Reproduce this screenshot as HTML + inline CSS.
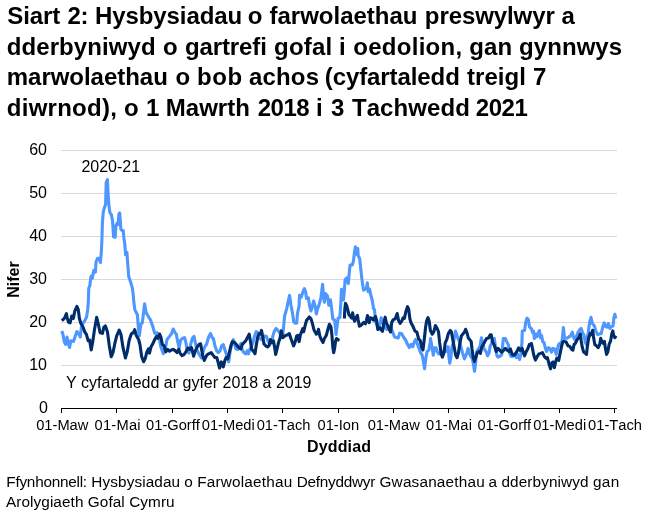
<!DOCTYPE html>
<html><head><meta charset="utf-8"><title>Siart 2</title>
<style>
html,body{margin:0;padding:0;background:#fff;}
body{width:650px;height:518px;overflow:hidden;font-family:"Liberation Sans",sans-serif;}
svg{display:block;will-change:transform;}
text{font-family:"Liberation Sans",sans-serif;fill:#000;font-kerning:none;}
.t{font-size:24px;font-weight:bold;}
.y{font-size:16px;text-anchor:end;}
.x{font-size:14.67px;text-anchor:middle;}
.l{font-size:16px;}
.b{font-size:16px;font-weight:bold;text-anchor:middle;}
.s{font-size:15.33px;}
</style></head><body>
<svg width="650" height="518" viewBox="0 0 650 518">
<rect width="650" height="518" fill="#fff"/>
<g class="t">
<text y="24"><tspan x="7.3" textLength="53">Siart</tspan><tspan x="67.4" textLength="21">2:</tspan><tspan x="95.1" textLength="147">Hysbysiadau</tspan><tspan x="247.7">o</tspan><tspan x="269.5" textLength="148">farwolaethau</tspan><tspan x="424.8" textLength="130">preswylwyr</tspan><tspan x="561.5">a</tspan></text>
<text y="54.5"><tspan x="6.7" textLength="149">dderbyniwyd</tspan><tspan x="163.1">o</tspan><tspan x="184.9" textLength="82">gartrefi</tspan><tspan x="274.1" textLength="58">gofal</tspan><tspan x="339">i</tspan><tspan x="353.2" textLength="109">oedolion,</tspan><tspan x="469.2" textLength="43">gan</tspan><tspan x="519.1" textLength="103">gynnwys</tspan></text>
<text y="85"><tspan x="6.8" textLength="161">marwolaethau</tspan><tspan x="175.5">o</tspan><tspan x="197.1" textLength="45">bob</tspan><tspan x="249" textLength="70">achos</tspan><tspan x="324.8" textLength="135">(cyfartaledd</tspan><tspan x="467" textLength="59">treigl</tspan><tspan x="532.9">7</tspan></text>
<text y="115.5"><tspan x="6.8" textLength="110">diwrnod),</tspan><tspan x="124">o</tspan><tspan x="146">1</tspan><tspan x="165.8" textLength="84">Mawrth</tspan><tspan x="257.7" textLength="52">2018</tspan><tspan x="316">i</tspan><tspan x="331">3</tspan><tspan x="351.9" textLength="118">Tachwedd</tspan><tspan x="475.8" textLength="52">2021</tspan></text>
</g>
<g stroke="#d9d9d9" stroke-width="1" shape-rendering="crispEdges">
<line x1="61" x2="617" y1="150.5" y2="150.5"/>
<line x1="61" x2="617" y1="193.5" y2="193.5"/>
<line x1="61" x2="617" y1="236.5" y2="236.5"/>
<line x1="61" x2="617" y1="279.5" y2="279.5"/>
<line x1="61" x2="617" y1="322.5" y2="322.5"/>
<line x1="61" x2="617" y1="365.5" y2="365.5"/>
</g>
<g class="y">
<text x="47" y="155.3">60</text>
<text x="47" y="198.3">50</text>
<text x="47" y="241.3">40</text>
<text x="47" y="284.3">30</text>
<text x="47" y="327.3">20</text>
<text x="47" y="370.3">10</text>
<text x="47.9" y="413">0</text>
</g>
<g fill="none" stroke-width="3.1" stroke-linejoin="round" stroke-linecap="butt">
<polyline stroke="#4d97ff" points="61.8,330.9 63,334.6 64.3,342 65.7,344.4 67,337 68,342 69.6,347.5 70.8,340.7 73.5,341.4 75.4,335.8 76.9,331.5 78.5,333.3 80.3,337 81.5,326.5 82.8,323.5 84.6,321 86.5,317.3 87.7,309.9 88.3,302 88.8,288.1 89.8,285.7 91,276.4 92.3,278.3 93.8,270.2 95.4,272.1 96,262.2 97.5,258.3 99.4,258.3 100.4,262.5 101.3,252.3 101.9,240 102.4,223.1 103.2,212.3 104.6,206.9 105.6,204.6 106.2,182.3 107.4,179.7 108.2,196.7 109.1,206.5 109.8,212.3 111.4,214.9 112.5,220.5 113.6,236.8 115.2,237.2 115.9,225.5 117.4,222.8 118.1,224.5 118.9,214 119.7,213 120.5,223.1 120.9,229.3 122,230.5 123.2,230.5 123.9,238 124.8,244.3 125.6,254.8 126.9,252.3 127.8,264.7 128.7,276.4 130.6,282 132.4,288.1 133.3,295.6 133.8,302 134.9,309.9 137.4,314.8 138.4,328.4 139.3,335.8 140.9,324.1 142.3,322.8 143.6,312.3 144.6,303.7 146,312.3 148.5,316.7 150.4,319.8 152.8,326.5 154.7,333.3 157.2,332.7 159,337 160.9,346.9 163.3,353.7 165.2,349.4 167,339.5 169.5,336.4 171.4,334 173.2,329 175.1,332.7 176.3,334 177.5,340.7 179.1,348.1 180.6,340.1 182.5,338.3 184.6,337.7 185.8,342 187.4,351.9 189,353.1 190.5,345.1 192.3,338.3 194,336.4 195.2,342 196.7,349.4 199.1,354.3 201.4,358 203.1,351.9 204.7,346.9 206.5,344.5 208.6,337 210.6,333.5 212.2,337.8 213.4,338.4 214.9,345.8 216.7,350.7 218.3,352.6 220.1,350.7 221.7,345.8 223.3,344.6 224.8,349.5 226.2,353.8 227.8,359.4 228.7,361.9 229.9,353.2 231.5,344.6 233.4,339.6 234.6,344 235.9,348.9 237.7,349.5 239.6,347 241,343.3 242,349.5 243.9,352.6 245.7,353.8 247.2,350.7 248.5,353.8 249.7,349.5 251.3,347 253.1,342.1 254.4,336.5 256.2,331.6 257.8,332.8 259.3,337.8 261.2,339.6 263,338.4 264.9,335.9 266.5,336.5 268,340.9 269.8,344.6 271.7,342.1 272.9,335.9 274.4,331 276,328.5 277.8,330.4 279.7,332.8 281.5,334.9 282.6,335.2 283.5,328.3 284.6,316 286.8,308.4 288,302.2 289.6,295.4 290.9,304.7 292.3,312.1 293.8,322 295.4,323.2 296.7,323.2 297.5,313.3 299.1,305.9 299.5,295.4 301.2,297.3 302.8,292.3 304.4,288.6 305.7,292.3 306.5,298.5 308.4,297.9 309.6,305.9 310.9,310.9 312.1,307.2 313.6,301 315.2,306.5 316.4,314 317.7,308.4 319.5,303.5 321,297.3 322.6,284.3 323.8,298.5 324.4,302.2 325.7,293.6 327.5,296 328.8,305.3 330.4,299.8 331.6,308.4 332.8,319.2 334.6,320 335.4,327 336.1,334.5 336.8,328 337.5,322.5 338.2,318 339.8,317.6 340.6,307.2 341.5,289.3 342.4,294 343.4,300 344.3,291.6 345.1,279.8 346.7,278 348.3,283.5 349.2,273 350.1,265 352.3,265 353.5,260.7 354.5,252 355.4,246.9 356.6,254.2 357.8,248.5 358.2,255.8 359.7,258.8 360.7,268.1 361.9,279.2 362.8,285.4 363.6,290.3 365.2,289.1 366.5,287.9 367.3,282.9 368.1,291.6 369.6,289.1 370.8,295.3 372.3,300.5 373.5,308.5 374.5,309.8 375,315.9 375.7,322.1 377.2,325.8 379.1,327 380.3,322.1 381.2,317.8 382.4,322.1 384,325.8 385.9,328.9 387.3,329.5 389,325.8 390.8,327.7 392.7,332 394.5,336.9 396.4,337.5 398.2,338.1 399.7,333.2 401.7,333.8 403.8,337.5 405.6,340 407.5,344.3 409.3,347.4 411.2,344.3 412.8,346.8 414.3,341.9 415.7,339.5 417.1,343 418.7,347.8 420.6,352.7 422.2,355.2 423.4,361.4 424.6,368.8 425.9,357.7 427.1,351.5 428.8,350.3 430.1,342.9 430.5,338.5 431.7,345.3 433.3,355.2 434.5,347.8 436,347.8 437.2,351.5 438.7,354 441,353 444,351.5 445.9,351.5 447.3,349 448.1,346.6 449,357.7 449.8,363.2 451,356.4 452,346.6 453.5,342.9 454.5,336.7 455.5,331.1 457,335.5 458.2,339.2 459.7,341.6 460.9,346.6 462.5,352.7 464.4,358.9 465.6,356.4 466.9,352.7 468.1,348.4 469.3,353.4 470.8,356.4 472.4,358.9 473.6,365.1 474.5,371.3 475.5,363.9 476.7,351.5 478.6,349 480.2,345.3 481.4,337.9 482.7,342.9 484.1,349 486,351.5 487.6,355.8 489.1,352.7 490.2,346 491.2,344.1 493.1,339.8 494.3,338.5 495.6,347.8 496.8,355.2 498,357.1 499.9,356.4 501.7,354.6 502.3,349 503.3,338.5 505.4,338.5 506.7,341.6 508.5,345.3 509.5,352.7 511,356.4 512.8,356.4 514.7,354 516.5,357.7 518.1,354.6 519.6,359.5 520.9,354 521.9,342.9 522.3,331.1 524.6,330.5 525.8,321.9 527,318.2 528.3,319.4 529.5,326.8 531.4,328.7 532.6,332.4 533.5,331.1 534.4,338.5 535.9,334.2 537.2,336.7 538.1,333 539.4,330.5 540.6,337.9 541.6,335.5 542.8,341.6 544.1,342.9 545.3,347.8 546.5,351.5 548.3,347.8 549.9,348.4 551.5,352.1 553,348.4 554.8,349 556.2,354.4 557.2,350.7 558.5,344.5 559.7,343.3 560.9,345.7 562.2,339.6 563.4,327.6 564.6,338.3 566.7,338.3 568.6,337.1 570.4,335.9 572.3,332.2 573.5,337.1 574.8,339.6 576.2,337.1 577.8,332.8 579.7,329.7 581.2,328.5 582.4,332.2 584,335.2 585.2,342 586.5,344.5 587.3,337.1 588.3,332.2 589.6,322.3 591,317.3 592.3,323.5 594.5,326 595.7,330.9 597.6,334.6 599.4,334 601.3,333.4 602.5,327.8 604.1,322.9 605.6,326.6 606.9,327.2 608.3,323.5 609.9,328.5 611.5,326.6 613,326 614,317.3 614.9,314.3 615.7,318.6"/>
<polyline stroke="#002d6a" points="61.8,320.7 63.6,319.1 64.9,317.3 66.4,313.6 67.3,318.5 68.6,322.2 70.1,322.8 71.7,316 73.3,318.5 74.8,311.1 76.9,306.4 78.2,309.3 79.4,318.5 80.9,323.5 82.8,326.5 84.6,331.5 86.5,334.6 88.1,340.7 89.6,340.1 91.2,350 92.7,342 94.5,329.6 96.7,317.3 98.2,323.5 100.1,332.7 102.5,333.3 103.8,327.2 105.4,325.9 107.5,332.1 109.3,345.7 111.2,356.8 113,352.5 114.9,343.2 116.7,335.8 119.2,330.2 121,334.6 122.9,346.9 125.4,358 127.2,351.9 129.1,340.7 130.9,335 131.9,333.3 133.5,332.7 134.7,329.6 136.2,335.2 138.6,339.5 139.9,344.4 141.7,356.8 143.6,361.7 145.4,358 146.7,352.5 148.5,348.8 149.5,353.1 151,346.9 152.8,343.8 154.7,339.5 156.5,336.4 157.8,338.3 159.6,334 160.9,337 162.3,344.4 164,345.7 165.8,351.9 167.7,349.4 169.5,351.2 171.4,350 173.2,349.4 175.1,350.6 176.9,352.5 178.8,349.4 180,353.1 181.9,355.6 184.3,354.3 186.2,351.2 188,348.1 189.9,349.4 191.4,347.5 192.3,350.6 193.6,356.2 195.4,350.6 197.3,346.9 199.1,344.4 200.6,343.8 201.6,349.4 202.8,355.6 204.3,360.5 205.6,357.5 206.9,355.1 208.7,353.8 211.2,352.6 213,355.1 214.9,357.5 216.7,357.5 218,361.9 219.6,368 221.3,361.9 223.3,366.8 224.8,360.6 226.2,357.5 227.8,358.8 229.4,352 230.9,345.8 232.4,341.5 234.6,342.7 236.5,344.6 238.3,347 240.8,348.9 242.3,344.6 243.9,342.7 245.7,340.9 247.6,337.2 249.2,334.1 250.4,340.9 251.7,349.5 253.1,350.7 255,353.8 256.2,345.8 257.8,336.5 259.3,333.5 260.6,334.1 261.5,330.4 262.8,337.2 264,344 265.7,345.8 267.7,347 269.2,345.2 270.4,339.6 272.3,342.7 273.5,340.9 274.8,348.3 275.7,354.4 277.2,348.3 278.5,342.7 280.1,337.8 281.3,330.8 282.7,337.8 285.6,335.4 287.7,334.8 289.3,333.6 290.9,338.5 292.3,342.2 293.6,345.9 295.1,342.2 296.7,336 297.9,335.4 299.1,341.6 300.4,334.8 302.8,328.6 303.7,331.7 305.3,324.9 306.5,320.5 309.3,317 311,318.9 312.3,323.1 314,329.9 316.4,334.2 317.7,332.3 318.5,329.3 319.8,336 321.4,339.8 323,342.5 324.4,338.5 326.3,335.4 328.1,328.6 329.4,324.3 330.9,326.8 331.9,334.8 332.8,347.2 333.7,352.7 334.6,348.4 335.6,341 336.5,338.5 338,339.8 339.5,340.4"/>
<polyline stroke="#002d6a" points="344.4,318.5 344.8,309.3 345.5,303.4 346.6,305.4 347.8,310 348.9,314.7 350.5,316.6 351.6,318.1 352.6,312.7 353.6,318.5 354.6,321.2 355.6,318.5 357.4,315.4 358.2,320.1 359.4,326.2 360.9,325.5 362.4,323.9 363.6,322.4 365.5,323.9 366.3,320.8 367.5,315.6 369.2,322.7 370.4,317.8 372.3,318.4 373.5,320.2 375.4,316.5 376.6,320.2 377.8,329.5 379.7,327.7 380.9,329.5 382.4,331.4 384,322.1 385.2,317.2 386.5,323.3 388.3,327 390.6,332 391.8,322.1 393.3,319.6 395.1,319 397.2,313.5 398.5,320.2 400.1,323.3 401.9,320.9 403.1,317.8 404.4,318.4 405.9,311.6 407.5,306.7 408.7,309.1 409.9,319 411.2,323.3 413,326.4 414.9,331 416.9,332.2 418.7,339.2 420.2,340.4 421.8,347.8 423,349.9 424.3,339.2 425.5,328 426.7,320.6 428,317.6 429.2,321.3 430.4,330.5 432.3,334.2 433.8,331.8 435.4,325.6 437,328 438.5,331.8 439.7,342.9 441.2,354 442.4,357.1 444,352.7 445.2,342.9 446.9,339.2 448.3,333.6 450.2,330.5 451.4,331.8 452.7,339.2 454.3,347.8 455.7,355.2 457,357.7 458.5,352.7 459.7,344.1 461.3,336.1 463.1,333.6 464.4,332.4 465.6,329.3 467.1,333 468.3,337.9 469.9,339.8 471.2,341.6 472,349 473.3,357.7 474.5,361.4 476.1,356.4 477.3,352.7 479,351.5 480.4,353.4 481.7,347.2 483.5,344.1 485.1,341 486.6,338.5 488.5,337.9 490.2,334.8 491.2,334.8 492.5,341.6 494.3,345.3 496.2,351.5 498,348.4 499.9,350.3 501.7,352.1 503.6,350.3 505.4,348.4 507.3,350.3 509.1,351.5 510.4,349 512.2,354.6 514.1,355.2 515.7,353.4 517.2,350.9 518.6,347.8 520.2,350.3 522.1,348.4 523.3,352.7 524.6,355.8 526,352.1 527.7,349 529.3,344.7 531.4,343.5 532.6,349 533.8,355.2 535.4,360.1 536.9,357.1 538.8,354 540.6,353.4 542.5,352.7 544.3,356.4 546.2,358.3 547.4,357.7 549,363.9 550.5,368.8 552,362.6 553.2,362 554.4,367.6 555.7,361.4 556.9,358 558.7,360.4 559.9,354.4 561.2,348.2 562.7,342 564.3,341.4 566.1,342 568,345.7 569.8,346.4 571.7,349.4 572.9,350.1 574.1,344.5 575.4,343.3 577.2,339.6 579.1,337.1 580.3,334 581.2,340.8 582.2,347 583.6,351.9 585.2,353.1 586.5,354.4 587.3,347 588.6,338.3 590.2,333.4 591.4,334.6 592.7,330.3 593.5,337.1 594.8,344.5 596.4,345.7 598.2,347.6 599.7,344.5 600.7,338.3 601.9,342 603.1,343.3 604.4,341.4 605.4,348.2 606.6,354.4 607.8,351.9 609.1,344.5 610.6,340.8 611.8,334 612.8,330.9 613.6,335.2 614.9,337.7 616.1,335.9"/>
</g>
<g stroke="#000" stroke-width="1" shape-rendering="crispEdges">
<line x1="61" x2="617" y1="408.5" y2="408.5"/>
<line x1="61.5" x2="61.5" y1="408" y2="412.6"/>
<line x1="116.5" x2="116.5" y1="408" y2="412.6"/>
<line x1="172.5" x2="172.5" y1="408" y2="412.6"/>
<line x1="227.5" x2="227.5" y1="408" y2="412.6"/>
<line x1="282.5" x2="282.5" y1="408" y2="412.6"/>
<line x1="338.5" x2="338.5" y1="408" y2="412.6"/>
<line x1="393.5" x2="393.5" y1="408" y2="412.6"/>
<line x1="448.5" x2="448.5" y1="408" y2="412.6"/>
<line x1="504.5" x2="504.5" y1="408" y2="412.6"/>
<line x1="559.5" x2="559.5" y1="408" y2="412.6"/>
<line x1="614.5" x2="614.5" y1="408" y2="412.6"/>
</g>
<g class="x">
<text x="62.3" y="430">01-Maw</text>
<text x="117.6" y="430" textLength="46">01-Mai</text>
<text x="173.0" y="430">01-Gorff</text>
<text x="228.3" y="430">01-Medi</text>
<text x="283.6" y="430">01-Tach</text>
<text x="338.3" y="430">01-Ion</text>
<text x="393.7" y="430">01-Maw</text>
<text x="449.0" y="430" textLength="46">01-Mai</text>
<text x="504.3" y="430">01-Gorff</text>
<text x="559.7" y="430">01-Medi</text>
<text x="615.0" y="430">01-Tach</text>
</g>
<text class="l" x="81.4" y="172.3">2020-21</text>
<text class="l" x="66" y="388">Y cyfartaledd ar gyfer 2018 a 2019</text>
<text class="b" x="339" y="452" textLength="64">Dyddiad</text>
<text class="b" transform="translate(19,279.5) rotate(-90)">Nifer</text>
<g class="s">
<text y="486.5"><tspan x="6.3" textLength="80.8">Ffynhonnell:</tspan><tspan x="91.3" textLength="88.8">Hysbysiadau</tspan><tspan x="184.3">o</tspan><tspan x="197.2" textLength="95.0">Farwolaethau</tspan><tspan x="296.7" textLength="78.7">Defnyddwyr</tspan><tspan x="379.5" textLength="105.2">Gwasanaethau</tspan><tspan x="488.5">a</tspan><tspan x="501.4" textLength="87.2">dderbyniwyd</tspan><tspan x="592.9" textLength="26.3">gan</tspan></text>
<text x="6" y="506.5" textLength="168.6">Arolygiaeth Gofal Cymru</text>
</g>
</svg>
</body></html>
